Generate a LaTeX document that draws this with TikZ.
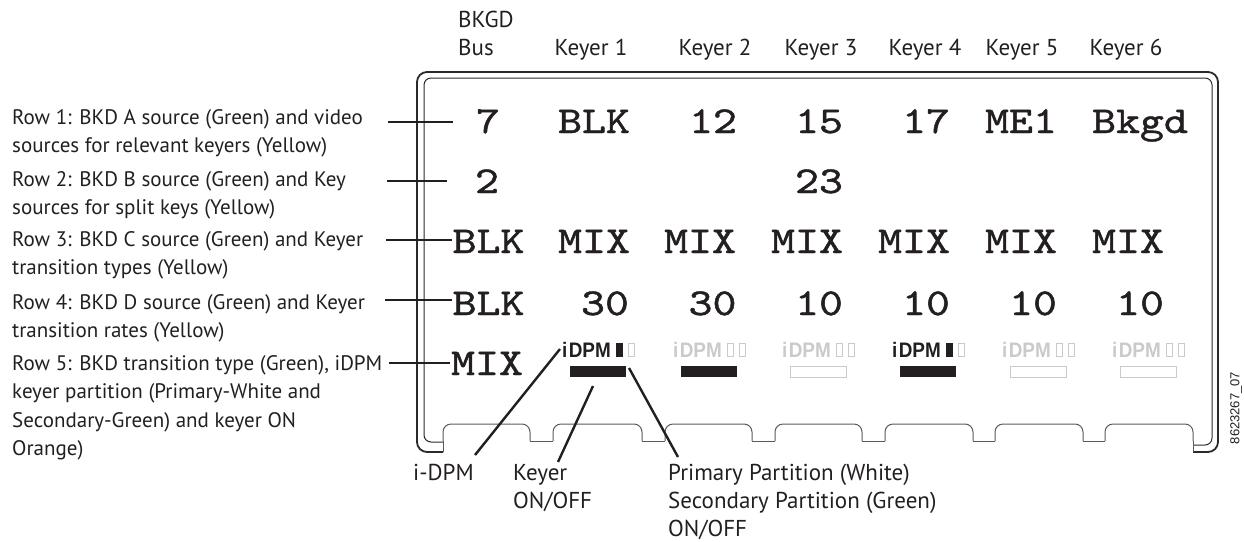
\documentclass[tikz,border=0pt]{standalone}
\usepackage{fontspec}
\setmainfont{PT Sans}
\newfontfamily\arialf{Liberation Sans}
\newfontfamily\lcdfam{lmmono10-regular.otf}[FakeBold=1.1]
\newcommand\lcdfont{\lcdfam\fontsize{38}{38}\selectfont}
\newcommand\lcdtxt[1]{\scalebox{1.2}[1]{#1}}
\newcommand\dpmword{\scalebox{0.9}[1]{i\kern1.5pt DPM}}
\definecolor{ink}{HTML}{231F20}
\definecolor{dim}{HTML}{CACACA}
\definecolor{framec}{HTML}{2A2A2A}
\definecolor{bumpc}{HTML}{5A5A5A}
\newcommand\leftlbl[1]{\begin{tabular}[t]{@{}l@{}}#1\end{tabular}}
\begin{document}
\begin{tikzpicture}[x=1pt,y=-1pt,
  every node/.style={inner sep=0pt, text=ink},
  val/.style={font=\lcdfont, anchor=base},
  hdr/.style={font=\fontsize{23}{28}\selectfont, anchor=base},
  rowlbl/.style={font=\fontsize{21}{28.5}\selectfont, anchor=base west},
  botlbl/.style={font=\fontsize{23}{28}\selectfont, anchor=base west},
  tick/.style={draw=ink, line width=2.6pt},
  callout/.style={draw=ink, line width=2.4pt},
  outerframe/.style={draw=framec, line width=1.8pt},
  innerframe/.style={draw=framec, line width=1pt},
  bump/.style={draw=bumpc, line width=1pt},
  dpmtxt/.style={font=\arialf\bfseries\fontsize{21}{21}\selectfont, anchor=base west},
  baron/.style={fill=ink, minimum width=56pt, minimum height=11pt},
  baroff/.style={draw=dim, line width=0.8pt, minimum width=56pt, minimum height=11pt},
  sqon/.style={fill=ink},
  sqoff/.style={draw=dim, line width=0.8pt},
]
\useasboundingbox (0,0) rectangle (1244,541);

% ---- frame ----
\draw[outerframe, rounded corners=10pt] (443,452) -- (417,452) -- (417,72) -- (1218,72) -- (1218,452) -- (1193,452);
\draw[innerframe, rounded corners=7pt] (443,442) -- (424,442) -- (424,78) -- (1212,78) -- (1212,445) -- (1193,445);
\foreach \a/\b in {443/530,553/642,665/752,775/862,885/973,995/1083,1105/1193}
  \draw[bump, rounded corners=8pt] (\a,441) -- (\a,424) -- (\b,424) -- (\b,441);
\foreach \a/\b in {530/553,642/665,752/775,862/885,973/995,1083/1105}
  \draw[bump] (\a,441) -- (\b,441);
\draw[bump] (443,441) -- (443,452);
\draw[bump] (1193,441) -- (1193,452);

% ---- headers ----
\node[hdr, anchor=base west] (hbk) at (458,27) {BKGD};
\node[hdr, anchor=base west] (hbus) at (458,55) {Bus};
\node[hdr] (hk1) at (591,55) {Keyer 1};
\node[hdr] (hk2) at (715,55) {Keyer 2};
\node[hdr] (hk3) at (821,55) {Keyer 3};
\node[hdr] (hk4) at (925,55) {Keyer 4};
\node[hdr] (hk5) at (1022,55) {Keyer 5};
\node[hdr] (hk6) at (1126,55) {Keyer 6};

% ---- values ----
\node[val] (r1a) at (488,133) {\lcdtxt{7}};
\node[val] (r1b) at (594,133) {\lcdtxt{BLK}};
\node[val] (r1c) at (713,133) {\lcdtxt{12}};
\node[val] (r1d) at (819,133) {\lcdtxt{15}};
\node[val] (r1e) at (926,133) {\lcdtxt{17}};
\node[val] (r1f) at (1021,133) {\lcdtxt{ME1}};
\node[val] (r1g) at (1140,133) {\lcdtxt{Bkgd}};
\node[val] (r2a) at (487,193) {\lcdtxt{2}};
\node[val] (r2d) at (819,193) {\lcdtxt{23}};
\node[val] (r3a) at (488.5,253) {\lcdtxt{BLK}};
\node[val] (r3b) at (594,253) {\lcdtxt{MIX}};
\node[val] (r3c) at (700,253) {\lcdtxt{MIX}};
\node[val] (r3d) at (807,253) {\lcdtxt{MIX}};
\node[val] (r3e) at (914,253) {\lcdtxt{MIX}};
\node[val] (r3f) at (1021,253) {\lcdtxt{MIX}};
\node[val] (r3g) at (1128,253) {\lcdtxt{MIX}};
\node[val] (r4a) at (488.5,315) {\lcdtxt{BLK}};
\node[val] (r4b) at (605,315) {\lcdtxt{30}};
\node[val] (r4c) at (712.5,315) {\lcdtxt{30}};
\node[val] (r4d) at (819,315) {\lcdtxt{10}};
\node[val] (r4e) at (926,315) {\lcdtxt{10}};
\node[val] (r4f) at (1033,315) {\lcdtxt{10}};
\node[val] (r4g) at (1140,315) {\lcdtxt{10}};
\node[val] (r5a) at (487,375) {\lcdtxt{MIX}};

% ---- iDPM indicators ----
% keyer 1 (on)
\node[dpmtxt] (d1) at (562,357) {\dpmword};
\fill[sqon] (616,343) rectangle (623,357);
\draw[sqoff] (628.5,343.5) rectangle (634.5,356.5);
\node[baron] (b1) at (598,371.5) {};
% keyer 2
\node[dpmtxt, text=dim] (d2) at (673,357) {\dpmword};
\draw[sqoff] (727.5,343.5) rectangle (733.5,356.5);
\draw[sqoff] (739.5,343.5) rectangle (745.5,356.5);
\node[baron] (b2) at (709,371.5) {};
% keyer 3
\node[dpmtxt, text=dim] (d3) at (782,357) {\dpmword};
\draw[sqoff] (836.5,343.5) rectangle (842.5,356.5);
\draw[sqoff] (848.5,343.5) rectangle (854.5,356.5);
\node[baroff] (b3) at (818,371.5) {};
% keyer 4 (on)
\node[dpmtxt] (d4) at (892,357) {\dpmword};
\fill[sqon] (946,343) rectangle (953,357);
\draw[sqoff] (958.5,343.5) rectangle (964.5,356.5);
\node[baron] (b4) at (928,371.5) {};
% keyer 5
\node[dpmtxt, text=dim] (d5) at (1002,357) {\dpmword};
\draw[sqoff] (1056.5,343.5) rectangle (1062.5,356.5);
\draw[sqoff] (1068.5,343.5) rectangle (1074.5,356.5);
\node[baroff] (b5) at (1038,371.5) {};
% keyer 6
\node[dpmtxt, text=dim] (d6) at (1112,357) {\dpmword};
\draw[sqoff] (1166.5,343.5) rectangle (1172.5,356.5);
\draw[sqoff] (1178.5,343.5) rectangle (1184.5,356.5);
\node[baroff] (b6) at (1148,371.5) {};

% ---- left labels ----
\node[rowlbl] (l1) at (12,124) {\leftlbl{Row 1: BKD A source (Green) and video\\sources for relevant keyers (Yellow)}};
\node[rowlbl] (l2) at (12,186) {\leftlbl{Row 2: BKD B source (Green) and Key\\sources for split keys (Yellow)}};
\node[rowlbl] (l3) at (12,246) {\leftlbl{Row 3: BKD C source (Green) and Keyer\\transition types (Yellow)}};
\node[rowlbl] (l4) at (12,309) {\leftlbl{Row 4: BKD D source (Green) and Keyer\\transition rates (Yellow)}};
\node[rowlbl] (l5) at (12,370) {\leftlbl{Row 5: BKD transition type (Green), iDPM\\keyer partition (Primary-White and\\Secondary-Green) and keyer ON\\Orange)}};

\coordinate (t1s) at (388,122); \coordinate (t1e) at (453,122);
\coordinate (t2s) at (387,181); \coordinate (t2e) at (447,181);
\coordinate (t3s) at (386,240); \coordinate (t3e) at (452,240);
\coordinate (t4s) at (385,300); \coordinate (t4e) at (452,300);
\coordinate (t5s) at (389,363); \coordinate (t5e) at (450,363);
\draw[tick] (t1s) -- (t1e);
\draw[tick] (t2s) -- (t2e);
\draw[tick] (t3s) -- (t3e);
\draw[tick] (t4s) -- (t4e);
\draw[tick] (t5s) -- (t5e);

% ---- bottom labels ----
\node[botlbl] (bl1) at (413,480) {i-DPM};
\node[botlbl] (bl2) at (513,480) {\begin{tabular}[t]{@{}l@{}}Keyer\\ON/OFF\end{tabular}};
\node[botlbl] (bl3) at (668,480) {\begin{tabular}[t]{@{}l@{}}Primary Partition (White)\\Secondary Partition (Green)\\ON/OFF\end{tabular}};

\coordinate (c1a) at (560,349); \coordinate (c1b) at (475,455);
\coordinate (c2a) at (593,386); \coordinate (c2b) at (558,462);
\coordinate (c3a) at (629,368); \coordinate (c3b) at (678,457);
\draw[callout] (c1a) -- (c1b);
\draw[callout] (c2a) -- (c2b);
\draw[callout] (c3a) -- (c3b);

% ---- figure id ----
\node[rotate=90, font=\arialf\fontsize{13}{13}\selectfont] (figid) at (1236,408) {8623267\_07};
\end{tikzpicture}
\end{document}
